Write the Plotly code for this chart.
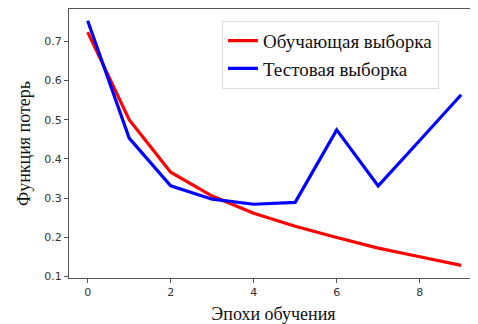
import plotly.graph_objects as go

epochs = list(range(10))
train_loss = [0.724, 0.500, 0.366, 0.305, 0.261, 0.228, 0.199, 0.172, 0.150, 0.128]
test_loss = [0.753, 0.453, 0.331, 0.297, 0.284, 0.289, 0.474, 0.331, 0.447, 0.564]
series_names = ["Обучающая выборка", "Тестовая выборка"]
x_ticks = [0, 2, 4, 6, 8]
y_ticks = [0.1, 0.2, 0.3, 0.4, 0.5, 0.6, 0.7]

fig = go.Figure()
fig.add_trace(go.Scatter(x=epochs, y=train_loss, mode="lines", name=series_names[0],
                         line=dict(color="#ff0000", width=3.2)))
fig.add_trace(go.Scatter(x=epochs, y=test_loss, mode="lines", name=series_names[1],
                         line=dict(color="#0000ff", width=3.2)))

serif = "Liberation Serif"
tickfont = dict(family="DejaVu Sans", size=11, color="#333")

# page body has an 8px default margin, so the figure is sized to fit the window
fig.update_layout(
    width=470, height=316,
    margin=dict(l=61, r=0, t=1, b=46),
    paper_bgcolor="white", plot_bgcolor="white",
    showlegend=True,
    legend=dict(x=0.374, y=0.956, xanchor="left", yanchor="top",
                bgcolor="white", bordercolor="#dddddd", borderwidth=1,
                font=dict(family=serif, size=19, color="#111")),
    xaxis=dict(range=[-0.45, 9.405], tickvals=x_ticks, showgrid=False, zeroline=False,
               automargin=False,
               showline=True, linecolor="#555", linewidth=1.2, mirror=True,
               ticks="outside", ticklen=4, tickcolor="#555", tickfont=tickfont,
               title=dict(text="Эпохи обучения", font=dict(family=serif, size=18, color="#111"),
                          standoff=10)),
    yaxis=dict(range=[0.0956, 0.783], tickvals=y_ticks, tickformat=".1f", showgrid=False,
               automargin=False,
               zeroline=False, showline=True, linecolor="#555", linewidth=1.2,
               ticks="outside", ticklen=4, tickcolor="#555", tickfont=tickfont,
               title=dict(text="Функция потерь", font=dict(family=serif, size=18, color="#111"),
                          standoff=8)),
)

fig.write_html("out.html")
